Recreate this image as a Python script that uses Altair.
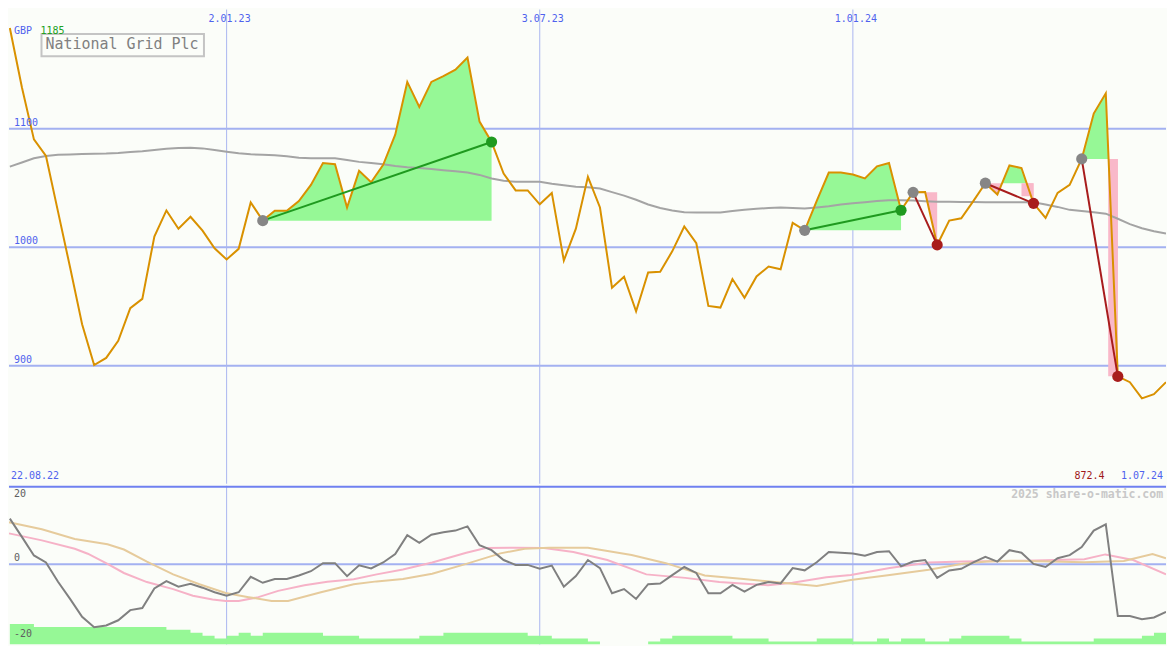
import altair as alt
import pandas as pd

# ---------------- data (weekly, week 1 = 29.08.22) ----------------
weeks = list(range(1, 98))
price = [1185, 1135, 1091, 1077, 1030, 983, 935, 900.5, 906.5, 921,
         948.5, 956.4, 1009, 1031, 1015.6, 1025.7, 1014, 999, 989.6, 998.6,
         1037.8, 1022.4, 1030.7, 1030.7, 1038.9, 1052.6, 1071, 1070, 1033.5, 1064.4,
         1054.8, 1069.5, 1095, 1139.5, 1118.4, 1139.5, 1144.4, 1149.8, 1160, 1106,
         1088.8, 1062.2, 1047.9, 1047.9, 1036.2, 1045.8, 988.7, 1015.6, 1059.4, 1033.5,
         965.7, 975, 945.8, 978.6, 979.2, 996.5, 1017.5, 1003.3, 950.4, 949,
         973.1, 957.3, 975.3, 983.6, 981.3, 1020.5, 1014.2, 1039, 1063, 1063,
         1061.4, 1058.1, 1068.2, 1071, 1031.2, 1046.3, 1046.6, 1001.9, 1022.4, 1024.4,
         1038.9, 1054, 1044.4, 1069, 1066.8, 1037, 1024.7, 1045.8, 1052.6, 1074.5,
         1112.8, 1129.9, 890.9, 886, 872.4, 875.9, 886]
long_ma = [1068, 1071.5, 1075, 1077, 1078, 1078.3, 1078.6, 1078.8, 1079, 1079.5,
           1080.3, 1081, 1082, 1083, 1083.8, 1084, 1083.4, 1082, 1080.5, 1079.2,
           1078.4, 1078, 1077.5, 1076.8, 1075.5, 1075, 1075, 1075, 1073.5, 1072,
           1071, 1070, 1068.5, 1067.5, 1066.8, 1066, 1065, 1064, 1063, 1061,
           1058, 1056, 1055.3, 1055.3, 1055.3, 1053.5, 1052.2, 1051, 1050.5, 1049.5,
           1046.5, 1043.5, 1040, 1036, 1033, 1031, 1029.5, 1029.3, 1029.3, 1029.3,
           1030.5, 1031.5, 1032.5, 1033, 1033.5, 1033, 1032.6, 1033.5, 1034.5, 1036,
           1037, 1038, 1039, 1039.7, 1039.6, 1039.3, 1038.8, 1038.4, 1038.3, 1038.2,
           1038.1, 1038, 1038, 1038, 1038, 1038, 1036, 1034, 1031.5, 1030.5,
           1029.5, 1028.3, 1024, 1019.5, 1016, 1013.5, 1011.5]
momentum = [13, 7.8, 2.5, 0.5, -5, -9.9, -15, -18, -17.5, -16,
            -13.1, -12.5, -6.9, -4.8, -6.4, -5.6, -6.7, -8, -9, -8,
            -3.6, -5.3, -4.2, -4.2, -3.2, -2, 0.3, 0.3, -3.4, -0.3,
            -1.2, 0.5, 2.9, 8.3, 6.1, 8.4, 9.1, 9.6, 10.8, 5.4,
            4, 1.2, -0.2, -0.2, -1.3, -0.4, -6.4, -3.4, 1.2, -1.1,
            -8.3, -7.1, -9.9, -5.7, -5.5, -3.1, -0.8, -2.5, -8.3, -8.3,
            -5.9, -7.8, -5.9, -5.1, -5.5, -1.1, -1.75, 0.55, 3.5, 3.25,
            3.05, 2.4, 3.5, 3.7, -0.6, 0.75, 1.2, -3.9, -1.8, -1.3,
            0.55, 2.1, 0.75, 4, 3.3, 0.1, -0.8, 1.7, 2.6, 4.9,
            9.6, 11.4, -14.8, -14.8, -15.7, -15.2, -13.6]
volume_level = [7, 7, 6, 6, 6, 6, 6, 6, 6, 6,
                6, 6, 6, 5, 5, 4, 3, 2, 3, 4,
                3, 4, 4, 4, 4, 4, 3, 3, 3, 2,
                2, 2, 2, 2, 3, 3, 4, 4, 4, 4,
                4, 4, 4, 3, 3, 2, 2, 2, 1, 0,
                0, 0, 0, 1, 2, 3, 3, 3, 3, 3,
                2, 2, 2, 1, 1, 1, 1, 2, 2, 2,
                1, 1, 2, 1, 2, 2, 1, 1, 2, 3,
                3, 3, 3, 2, 1, 1, 1, 1, 1, 1,
                2, 2, 2, 2, 3, 4, 4]
pink_w = [0.93, 3.66, 6.39, 7.47, 9.11, 10.47, 12.38, 14.56, 16.2, 17.83, 18.92, 20.0,
          21.64, 23.28, 25.46, 27.37, 29.55, 31.46, 33.64, 36.07, 38.9, 40.51, 42.93,
          45.36, 47.79, 50.61, 53.85, 57.08, 59.91, 63.95, 65.98, 68.8, 70.83, 74.06,
          77.3, 80.12, 84.16, 90.22, 91.96, 94.27, 97.0]
pink_v = [8.8, 6.8, 4.4, 3.0, 0.1, -2.5, -5.1, -7.1, -9.0, -10.1, -10.5, -10.5,
          -9.4, -7.6, -6.0, -5.0, -4.3, -2.9, -1.5, 0.5, 3.25, 4.6, 4.7,
          4.6, 3.5, 1.2, -2.9, -3.9, -5.1, -6.0, -5.3, -3.7, -3.1, -1.1,
          0.5, 0.75, 0.9, 1.4, 2.8, 1.2, -2.9]
tan_w = [0.93, 3.66, 6.39, 9.11, 10.47, 12.38, 14.56, 16.74, 18.92, 20.83, 22.74, 24.1,
         26.83, 29.55, 31.46, 33.64, 36.07, 38.9, 41.73, 43.75, 45.77, 49.0, 52.63,
         55.47, 58.7, 61.93, 65.57, 68.0, 70.83, 74.06, 77.3, 80.12, 82.14, 84.16,
         90.22, 93.5, 95.88, 97.0]
tan_v = [12.0, 10.0, 7.2, 5.7, 4.2, 0.75, -2.9, -5.7, -8.2, -9.4, -10.5, -10.5,
         -8.0, -5.7, -4.9, -4.2, -2.7, 0.1, 3.1, 4.4, 4.7, 4.7, 2.6,
         0.3, -3.2, -4.2, -5.4, -6.2, -4.5, -3.1, -1.6, 0.1, 0.75, 1.0,
         0.55, 0.9, 2.9, 1.7]

grid_prices = [900, 1000, 1100]
grid_labels = ["900", "1000", "1100"]
date_ticks = [19, 45, 71]
date_labels = ["2.01.23", "3.07.23", "1.01.24"]
osc_ticks = [20, -20]
osc_labels = ["20", "-20"]

trade_entry = [22, 67, 76, 82, 90]
trade_exit = [41, 75, 78, 86, 93]
trade_result = ["win", "win", "loss", "loss", "loss"]
# pink exit bars (week from, price low) for the last two trades
exitbar_trade = [3, 4]
exitbar_from = [85.0, 92.2]
exitbar_low = [1043, 891]

title_text = "National Grid Plc"
currency = "GBP"
start_value = "1185"
first_date = "22.08.22"
last_date = "1.07.24"
low_value = "872.4"
watermark = "2025 share-o-matic.com"

# ---------------- layout / style ----------------
FONT = "DejaVu Sans Mono"
W, H_TOP, H_BOT = 1159, 475, 159
SX = W / 1175.0
SY = (H_TOP + H_BOT) / 650.0
BG = "#fbfdf9"
GRID = "#a3b1f1"
VGRID = "#aab6f0"
BLUE = "#4f62ee"
GREEN_FILL = "#96f896"
PINK_FILL = "#f9b8c9"
ORANGE = "#d99100"

xs = alt.Scale(domain=[0.93, 97.0], nice=False, zero=False)
ys = alt.Scale(domain=[800.3, 1200.6], nice=False, zero=False)
ys2 = alt.Scale(domain=[-22.9, 22.4], nice=False, zero=False)
yv = alt.Scale(domain=[0, 163 / 3.0], nice=False, zero=False)
col_scale = alt.Scale(domain=["entry", "win", "loss"], range=["#868686", "#1f9a1f", "#a81c1c"])


def X(f="w"):
    return alt.X(f"{f}:Q", scale=xs, axis=None)


def YP(f="p"):
    return alt.Y(f"{f}:Q", scale=ys, axis=None)


def label(text, x, y, color, size=10, align="left", weight="normal", baseline="alphabetic"):
    return alt.Chart(pd.DataFrame({"t": [text]})).mark_text(
        align=align, baseline=baseline, font=FONT, fontSize=size, color=color, fontWeight=weight
    ).encode(x=alt.value(x), y=alt.value(y), text="t:N")


# ---------------- top panel ----------------
df_price = pd.DataFrame({"w": weeks, "p": price, "ma": long_ma})

fill_rows = []
for t, (a, b) in enumerate(zip(trade_entry, trade_exit)):
    e = price[a - 1]
    for k in range(a, b + 1):
        p = price[k - 1]
        fill_rows.append({"t": t, "w": k, "top": max(p, e), "low": min(p, e), "e": e})
        if k < b:
            p2 = price[k]
            if (p - e) * (p2 - e) < 0:
                f = (e - p) / (p2 - p)
                fill_rows.append({"t": t, "w": k + f, "top": e, "low": e, "e": e})
df_fill = pd.DataFrame(fill_rows)

trade_rows, dot_rows = [], []
for t, (a, b, r) in enumerate(zip(trade_entry, trade_exit, trade_result)):
    trade_rows.append({"t": t, "w": a, "p": price[a - 1], "kind": r})
    trade_rows.append({"t": t, "w": b, "p": price[b - 1], "kind": r})
    dot_rows.append({"w": a, "p": price[a - 1], "kind": "entry"})
    dot_rows.append({"w": b, "p": price[b - 1], "kind": r})
df_trades = pd.DataFrame(trade_rows)
df_dots = pd.DataFrame(dot_rows)
df_exitbar = pd.DataFrame({
    "w": exitbar_from,
    "w2": [trade_exit[i] for i in exitbar_trade],
    "p": exitbar_low,
    "e": [price[trade_entry[i] - 1] for i in exitbar_trade],
})

hgrid = alt.Chart(pd.DataFrame({"p": grid_prices})).mark_rule(color=GRID, strokeWidth=2).encode(y=YP())
vgrid = alt.Chart(pd.DataFrame({"w": date_ticks})).mark_rule(color=VGRID, strokeWidth=1).encode(x=X())

green = alt.Chart(df_fill).mark_area(color=GREEN_FILL, clip=True).encode(
    x=X(), y=YP("top"), y2="e:Q", detail="t:N")
pink = alt.Chart(df_fill).mark_area(color=PINK_FILL, clip=True).encode(
    x=X(), y=YP("low"), y2="e:Q", detail="t:N")
exitbars = alt.Chart(df_exitbar).mark_rect(color=PINK_FILL).encode(
    x=X(), x2="w2:Q", y=YP(), y2="e:Q")

ma_line = alt.Chart(df_price).mark_line(color="#a4a4a4", strokeWidth=2, clip=True).encode(x=X(), y=YP("ma"))
price_line = alt.Chart(df_price).mark_line(color=ORANGE, strokeWidth=2, clip=True).encode(x=X(), y=YP())
trade_lines = alt.Chart(df_trades).mark_line(strokeWidth=2).encode(
    x=X(), y=YP(), detail="t:N", color=alt.Color("kind:N", scale=col_scale, legend=None))
dots = alt.Chart(df_dots).mark_circle(size=125, opacity=1).encode(
    x=X(), y=YP(), color=alt.Color("kind:N", scale=col_scale, legend=None))

price_lbls = alt.Chart(pd.DataFrame({"p": grid_prices, "t": grid_labels})).mark_text(
    align="left", baseline="alphabetic", font=FONT, fontSize=10, color=BLUE, dy=-3
).encode(x=alt.value(5 * SX), y=YP(), text="t:N")
date_lbls = alt.Chart(pd.DataFrame({"w": date_ticks, "t": date_labels})).mark_text(
    align="center", baseline="alphabetic", font=FONT, fontSize=10, color=BLUE, dx=3
).encode(x=X(), y=alt.value(12.5 * SY), text="t:N")

title_box = alt.Chart(pd.DataFrame({"t": [title_text]})).mark_rect(
    fill=BG, stroke="#c4c4c4", strokeWidth=2
).encode(x=alt.value(33 * SX), x2=alt.value(198 * SX), y=alt.value(25 * SY), y2=alt.value(48 * SY))
title = label(title_text, 37 * SX, 41 * SY, "#808080", size=15)
gbp = label(currency, 5 * SX, 25 * SY, BLUE)
start_lbl = label(start_value, 32 * SX, 25 * SY, "#22a022")
first_lbl = label(first_date, 2 * SX, 482.5 * SY, BLUE)
low_lbl = label(low_value, 1112.5 * SX, 482 * SY, "#a01818", align="right")
last_lbl = label(last_date, 1172 * SX, 482 * SY, BLUE, align="right")

top = alt.layer(
    hgrid, vgrid, green, pink, exitbars, ma_line, price_line, trade_lines, dots,
    price_lbls, date_lbls, title_box, title, gbp, start_lbl, first_lbl, low_lbl, last_lbl
).properties(width=W, height=H_TOP)

# ---------------- bottom panel ----------------
df_osc = pd.DataFrame({"w": weeks, "v": momentum})
df_vol = pd.DataFrame({"w": weeks, "lvl": volume_level})
df_pink = pd.DataFrame({"w": pink_w, "v": pink_v})
df_tan = pd.DataFrame({"w": tan_w, "v": tan_v})


def YO(f="v"):
    return alt.Y(f"{f}:Q", scale=ys2, axis=None)


vgrid2 = alt.Chart(pd.DataFrame({"w": date_ticks})).mark_rule(color=VGRID, strokeWidth=1).encode(x=X())
zero = alt.Chart(pd.DataFrame({"v": [0]})).mark_rule(color=GRID, strokeWidth=2).encode(y=YO())
vol = alt.Chart(df_vol).mark_area(color=GREEN_FILL, interpolate="step-after", clip=True).encode(
    x=X(), y=alt.Y("lvl:Q", scale=yv, axis=None))
pink_line = alt.Chart(df_pink).mark_line(color="#f6b2c7", strokeWidth=2, clip=True).encode(x=X(), y=YO())
tan_line = alt.Chart(df_tan).mark_line(color="#e6cb9c", strokeWidth=2, clip=True).encode(x=X(), y=YO())
osc_line = alt.Chart(df_osc).mark_line(color="#808080", strokeWidth=2, clip=True).encode(x=X(), y=YO())
sep = alt.Chart(pd.DataFrame({"t": ["sep"]})).mark_rule(color="#6f80f0", strokeWidth=2).encode(
    x=alt.value(0), x2=alt.value(W), y=alt.value(1))
osc_lbls = alt.Chart(pd.DataFrame({"v": osc_ticks, "t": osc_labels})).mark_text(
    align="left", baseline="middle", font=FONT, fontSize=10, color="#606060"
).encode(x=alt.value(5 * SX), y=YO(), text="t:N")
zero_lbl = alt.Chart(pd.DataFrame({"v": [0], "t": ["0"]})).mark_text(
    align="left", baseline="alphabetic", font=FONT, fontSize=10, color="#606060", dy=-3
).encode(x=alt.value(5 * SX), y=YO(), text="t:N")
wm = label(watermark, 1172 * SX, 12.5 * SY, "#c8c8c8", size=11.5, align="right", weight="bold")

bottom = alt.layer(
    vgrid2, vol, zero, pink_line, tan_line, osc_line, sep, osc_lbls, zero_lbl, wm
).resolve_scale(y="independent").properties(width=W, height=H_BOT)

chart = alt.vconcat(top, bottom, spacing=0).properties(
    background=BG, padding=0
).configure_view(stroke=None)

chart.save("out.html", embed_options={"renderer": "svg", "actions": False})
